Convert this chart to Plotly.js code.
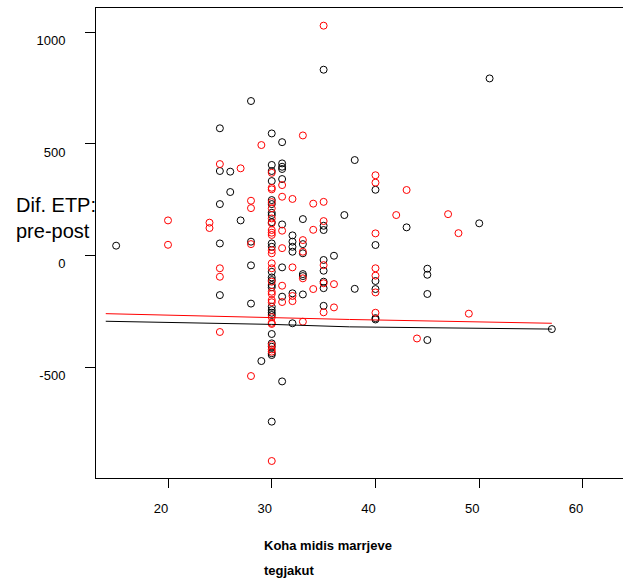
<!DOCTYPE html>
<html>
<head>
<meta charset="utf-8">
<script src="https://cdn.plot.ly/plotly-3.0.1.min.js"></script>
<style>html,body{margin:0;padding:0;background:#fff;}#chart{width:623px;height:579px;}</style>
</head>
<body>
<div id="chart"></div>
<script>
// Black series (x = Koha midis marrjeve, y = Dif. ETP pre-post)
const blackX = [15,
  25,25,25,25,25,
  26,26,
  27,
  28,28,28,28,
  29,
  30,30,30,30,30,30,30,30,30,30,30,30,30,30,30,30,30,30,30,30,30,30,30,30,30,30,
  31,31,31,31,31,31,31,31,31,
  32,32,32,32,32,32,
  33,33,33,33,33,33,
  35,35,35,35,35,35,35,35,
  36, 37, 38,38,
  40,40,40,40,40,40,
  43,
  45,45,45,45,
  50, 51, 57];
const blackY = [45,
  570,379,231,55,-176,
  376,285,
  158,
  692,63,-43,-214,
  -471,
  547,406,379,334,249,231,192,182,150,55,40,-72,-97,-109,-131,-141,-228,-243,-255,-265,-350,-392,-407,-436,-444,-742,
  508,413,398,388,343,140,-52,-183,-562,
  91,63,40,18,-168,-302,
  164,52,11,-82,-91,-173,
  832,134,115,-19,-67,-116,-145,-224,
  0, 182, 428,-148,
  295,48,-113,-149,-279,-285,
  127,
  -58,-85,-171,-377,
  145, 793, -328];

// Red series
const redX = [20,20,
  24,24,
  25,25,25,25,
  27,
  28,28,28,28,
  29,
  30,30,30,30,30,30,30,30,30,30,30,30,30,30,30,30,30,30,30,30,30,30,30,30,30,30,
  31,31,31,31,31,31,
  32,32,32,32,
  33,33,33,33,33,
  34,34,34,
  35,35,35,35,35,35,
  36,36,
  40,40,40,40,40,40,40,
  42, 43, 44, 47, 48, 49];
const redY = [158,49,
  148,124,
  410,-56,-94,-341,
  391,
  246,213,52,-538,
  495,
  371,304,297,240,212,167,145,115,103,93,25,11,-34,-56,-116,-161,-171,-198,-208,-275,-300,-305,-399,-419,-429,-918,
  316,264,112,34,-134,-207,
  254,-52,-180,-203,
  538,70,18,-101,-295,
  233,116,-149,
  1029,241,155,-42,-123,-253,
  -127,-231,
  360,327,100,-56,-89,-164,-255,
  182, 294, -370, 186, 101, -259];

// Fitted lines
const redLineX = [14, 30, 37.5, 57];
const redLineY = [-259, -276, -285, -302];
const blackLineX = [14, 30, 37.5, 57];
const blackLineY = [-293, -307, -318, -328];

const xTicks = [20, 30, 40, 50, 60];
const yTicks = [-500, 0, 500, 1000];
const yTickText = ['-500', '0', '500', '1000'];

const tickFont = {family: 'Liberation Sans, Arial, sans-serif', size: 13, color: '#000'};

const traces = [
  {x: blackX, y: blackY, type: 'scatter', mode: 'markers',
   marker: {symbol: 'circle-open', size: 7, color: '#000', line: {width: 1, color: '#000'}}},
  {x: redX, y: redY, type: 'scatter', mode: 'markers',
   marker: {symbol: 'circle-open', size: 7, color: '#ff0000', line: {width: 1, color: '#ff0000'}}},
  {x: redLineX, y: redLineY, type: 'scatter', mode: 'lines', line: {color: '#ff0000', width: 1}},
  {x: blackLineX, y: blackLineY, type: 'scatter', mode: 'lines', line: {color: '#000', width: 1}}
];

const layout = {
  width: 623, height: 579,
  margin: {l: 96, r: 0, t: 8, b: 101},
  paper_bgcolor: '#fff', plot_bgcolor: '#fff',
  showlegend: false,
  xaxis: {range: [13.06, 63.86], tickvals: xTicks, ticks: 'outside', ticklen: 9, tickcolor: '#000',
          showline: true, linecolor: '#000', linewidth: 1, mirror: true,
          showgrid: false, zeroline: false, tickfont: tickFont,
          ticklabelstandoff: 9, ticklabelshift: -7},
  yaxis: {range: [-994, 1108], tickvals: yTicks, ticktext: yTickText, ticks: 'outside', ticklen: 10, tickcolor: '#000',
          showline: true, linecolor: '#000', linewidth: 1,
          showgrid: false, zeroline: false, tickfont: tickFont,
          ticklabelstandoff: 17, ticklabelshift: 8},
  annotations: [
    {text: 'Dif. ETP:<br>pre-post', xref: 'paper', yref: 'paper', x: -82/527, y: 0.553,
     xanchor: 'left', yanchor: 'middle', align: 'left', showarrow: false,
     font: {family: 'Liberation Sans, Arial, sans-serif', size: 20, color: '#000'}},
    {text: '<b>Koha midis marrjeve</b>', xref: 'paper', yref: 'paper', x: (262-96)/527, y: (478-545)/470,
     xanchor: 'left', yanchor: 'middle', align: 'left', showarrow: false,
     font: {family: 'Liberation Sans, Arial, sans-serif', size: 13, color: '#000'}},
    {text: '<b>tegjakut</b>', xref: 'paper', yref: 'paper', x: (262-96)/527, y: (478-570)/470,
     xanchor: 'left', yanchor: 'middle', align: 'left', showarrow: false,
     font: {family: 'Liberation Sans, Arial, sans-serif', size: 13, color: '#000'}}
  ]
};

Plotly.newPlot('chart', traces, layout, {displayModeBar: false, staticPlot: true});
</script>
</body>
</html>
